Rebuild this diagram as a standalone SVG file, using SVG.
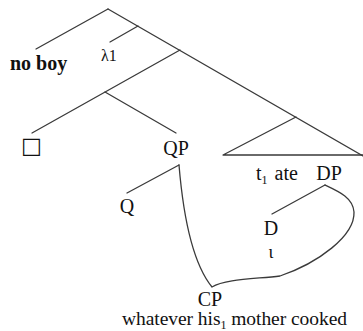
<svg xmlns="http://www.w3.org/2000/svg" width="363" height="331" viewBox="0 0 363 331">
  <style>
    .edge { fill: none; stroke: #3a3a3a; stroke-width: 1.3; stroke-linecap: round; stroke-linejoin: round; }
    text { font-family: "Liberation Serif", "Times New Roman", serif; fill: #111; }
    .lbl { font-size: 20px; }
    .sub { font-size: 12px; }
  </style>
  <rect width="363" height="331" fill="#fff"/>

  <!-- tree branches and the movement curve -->
  <g id="connectors">
    <!-- spine from the root down into the right side of the triangle -->
    <path class="edge" d="M108,9 L363,156"/>
    <!-- root to "no boy" -->
    <path class="edge" d="M108,9 L36,49"/>
    <!-- lambda node to λ1 -->
    <path class="edge" d="M138,26 L110,42"/>
    <!-- long left branch down to the square -->
    <path class="edge" d="M180,50 L32,133"/>
    <!-- to QP -->
    <path class="edge" d="M105,92 L176,133"/>
    <!-- triangle -->
    <path class="edge" d="M296,117 L223,155 L363,155"/>
    <!-- QP to Q -->
    <path class="edge" d="M179,165 L127,193"/>
    <!-- DP to D -->
    <path class="edge" d="M325,185 L272,214"/>
    <!-- curve from QP through CP up to DP -->
    <path class="edge" d="M179,165 C184,225 194,265 212,287 C225,279 255,279 280,276 C318,263 355,236 354,212 C353,198 340,192 325,185"/>
  </g>

  <g id="node-noboy"><text x="10" y="70" style="font-size:20px;font-weight:bold">no boy</text></g>
  <g id="node-lambda"><text x="101" y="61" style="font-size:16px">λ1</text></g>
  <g id="node-square"><text x="21" y="153" style="font-family:'DejaVu Sans',sans-serif;font-size:22px;font-weight:bold">□</text></g>
  <g id="node-QP"><text class="lbl" x="176" y="155" text-anchor="middle">QP</text></g>
  <g id="node-Q"><text class="lbl" x="127" y="213" text-anchor="middle">Q</text></g>
  <g id="node-t-ate"><text class="lbl" x="256" y="180">t<tspan class="sub" dy="4">1</tspan><tspan dy="-4" dx="7">ate</tspan></text></g>
  <g id="node-DP"><text class="lbl" x="329" y="180" text-anchor="middle">DP</text></g>
  <g id="node-D"><text class="lbl" x="271" y="235" text-anchor="middle">D</text></g>
  <g id="node-iota"><text x="271" y="258" text-anchor="middle" style="font-size:18px">ι</text></g>
  <g id="node-CP"><text class="lbl" x="210" y="306" text-anchor="middle">CP</text></g>
  <g id="node-clause"><text x="122" y="325" style="font-size:19.5px" textLength="225" lengthAdjust="spacing">whatever his<tspan class="sub" dy="4">1</tspan><tspan dy="-4"> mother cooked</tspan></text></g>
</svg>
